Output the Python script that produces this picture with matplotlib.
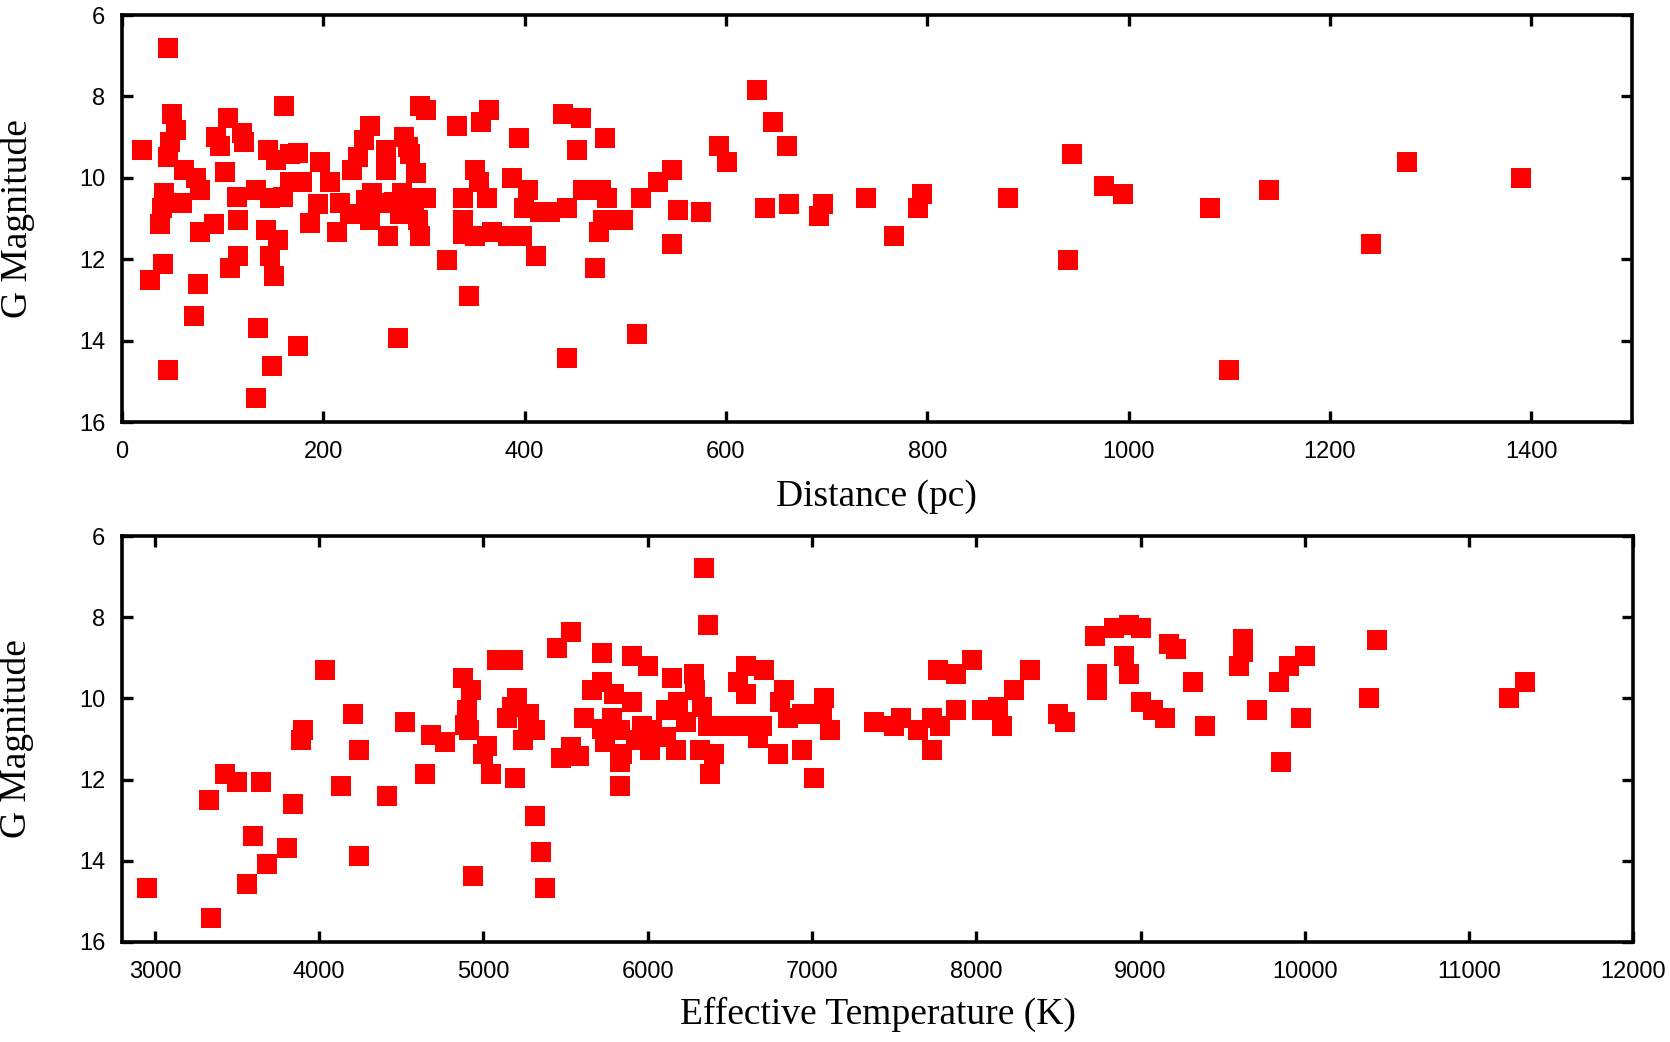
import matplotlib
matplotlib.use("Agg")
import matplotlib.pyplot as plt
from matplotlib import font_manager

# ---------------- data: top panel (distance in pc, G magnitude) ----------------
dist_pc = [
    45.6, 19.8, 49.6, 53.6, 47.6, 45.6, 61.5, 73.4, 77.4, 41.7, 49.6, 59.5, 39.7, 37.7,
    77.4, 91.3, 115, 40.4, 27.8, 75.4, 71.4, 45.6, 135, 148.8, 133, 174.6, 273.8, 160.7,
    105, 93.3, 97.2, 119, 121, 101.9, 113.8, 133, 146.8, 160, 166.7, 178.6, 144.8, 152.8,
    166.7, 174.6, 142.9, 154.8, 115, 107, 146.8, 150.8, 196.4, 206.3, 194.4, 186.5, 216.3,
    214, 228, 234, 240, 246.7, 242.7, 248, 236, 246, 256, 262, 262, 280, 283.7, 285.7,
    291.6, 277.8, 295.6, 301.6, 263.9, 295.6, 293.6, 275.8, 295.6, 301.6, 323, 226, 290, 270,
    332.7, 365, 357, 394.8, 438.5, 456.3, 480, 452.4, 631, 647, 661, 593, 601, 351, 355,
    339, 363, 387, 403, 399, 415, 425, 442, 458, 476, 482, 516, 532, 546, 552, 575, 478,
    498, 474, 339, 339, 351, 368, 383, 397, 411, 470, 546, 345, 512, 442, 639, 663, 696, 692,
    739.3, 794.3, 790.7, 766.8, 879.9, 943.7, 939.5, 975.3, 995, 1080.6, 1100.3, 1139.7,
    1240.8, 1276.6, 1389.6,
]
gmag_dist = [
    6.80, 9.32, 8.43, 8.83, 9.12, 9.50, 9.81, 10.0, 10.3, 10.38, 10.63, 10.63, 10.75, 11.14,
    11.33, 11.14, 11.04, 12.12, 12.52, 12.61, 13.4, 14.73, 13.7, 14.63, 15.42, 14.14, 13.94, 8.24,
    8.53, 9.0, 9.21, 8.9, 9.11, 9.85, 10.47, 10.3, 10.5, 10.47, 10.1, 10.1, 9.32, 9.57,
    9.42, 9.4, 11.29, 11.53, 11.93, 12.22, 11.93, 12.42, 9.61, 10.1, 10.65, 11.12, 10.63,
    11.33, 9.81, 9.48, 9.07, 8.73, 10.55, 10.38, 10.88, 11.04, 10.63, 9.32, 9.81, 9.0, 9.24, 9.42,
    9.89, 10.38, 10.5, 10.5, 11.43, 11.43, 11.04, 10.88, 8.24, 8.34, 12.02, 10.9, 10.7, 10.6,
    8.73, 8.34, 8.62, 9.02, 8.43, 8.53, 9.02, 9.32, 7.84, 8.63, 9.21, 9.21, 9.61, 9.81, 10.1,
    10.49, 10.49, 10.0, 10.3, 10.75, 10.84, 10.84, 10.75, 10.3, 10.3, 10.5, 10.5, 10.1, 9.81, 10.8, 10.84, 11.04,
    11.04, 11.33, 11.04, 11.37, 11.43, 11.33, 11.43, 11.43, 11.93, 12.22, 11.63, 12.91, 13.84, 14.43, 10.75, 10.65, 10.65, 10.94,
    10.5, 10.4, 10.75, 11.43, 10.5, 9.42, 12.02, 10.2, 10.4, 10.75, 14.73, 10.3,
    11.63, 9.61, 10.0,
]

# ---------------- data: bottom panel (Teff in K, G magnitude) ----------------
teff_k = [
    2953, 3343, 3331, 3428, 3501, 3647, 3598, 3562, 3684, 3805, 3842, 3890, 3903, 4037,
    4207, 4243, 4134, 4243, 4414, 4523, 4645, 4682, 4767, 4876, 4925, 4901, 4913, 4888,
    4937, 5083, 5181, 5205, 5144, 5278, 5314, 5241, 5022, 4998, 5047, 5193, 5314, 5351,
    5375, 5448, 5530, 5473, 5533, 5176, 5270,
    6341, 6366, 5720, 5902, 6000, 6146, 6280, 6289, 6598, 6707, 6549, 6598, 6829, 6805,
    7073, 5720, 5659, 5793, 5902, 5610, 5581, 5780, 5740, 5829, 5841, 5829,
    5829, 5927, 6012, 5963, 6110, 6183, 6232, 6110, 6171, 6317, 6329, 6366, 6402, 6378,
    6488, 6573, 6695, 6671, 6793, 6854, 6939, 7061, 7110, 6939, 7012, 7378, 5720, 6024,
    7543, 7500, 7646, 7732, 7780, 7732, 7768, 7878, 7976, 7878, 8037, 8134, 8159, 8232,
    8329, 8500, 8537, 8720, 8732, 8732, 8841, 8927, 9000, 8902, 8927, 9000, 9073, 9146,
    9171, 9215,
    9317, 9390, 9622, 9622, 9598, 9707, 9902, 10000, 9841, 9976, 9854, 10439, 10390,
    11244, 11341,
]
gmag_teff = [
    14.68, 15.42, 12.51, 11.87, 12.07, 12.07, 13.4, 14.58, 14.09, 13.69, 12.61, 11.03, 10.79, 9.31,
    10.39, 11.28, 12.17, 13.89, 12.41, 10.59, 11.87, 10.89, 11.08, 9.51, 9.8, 10.29, 10.79, 10.66,
    14.38, 9.06, 9.06, 10.0, 10.49, 10.39, 10.79, 11.03, 11.18, 11.38, 11.87, 11.97, 12.9, 13.79,
    14.68, 8.77, 8.37, 11.48, 11.2, 10.21, 10.6,
    6.79, 8.18, 8.87, 8.96, 9.21, 9.51, 9.41, 9.8, 9.21, 9.31, 9.6, 9.9, 9.8, 10.1,
    10.0, 9.6, 9.8, 9.9, 10.1, 10.49, 11.41, 10.49, 11.08, 10.79, 11.36, 11.57,
    12.17, 11.03, 11.28, 10.69, 10.29, 10.1, 10.59, 10.95, 11.28, 11.28, 10.2, 10.69, 11.38, 11.87,
    10.69, 10.69, 10.69, 10.98, 11.38, 10.49, 10.39, 10.39, 10.79, 11.28, 11.97, 10.59, 10.75, 10.79,
    10.49, 10.69, 10.79, 10.49, 10.69, 11.28, 9.31, 9.41, 9.06, 10.29, 10.29, 10.2, 10.69, 9.8,
    9.31, 10.39, 10.59, 8.47, 9.41, 9.8, 8.27, 8.18, 8.27, 8.96, 9.41, 10.1, 10.29, 10.49,
    8.67, 8.78,
    9.6, 10.69, 8.53, 8.86, 9.2, 10.29, 9.2, 8.96, 9.6, 10.49, 11.57, 8.57, 10.0,
    10.0, 9.6,
]

dist_ticks = [0, 200, 400, 600, 800, 1000, 1200, 1400]
teff_ticks = [3000, 4000, 5000, 6000, 7000, 8000, 9000, 10000, 11000, 12000]
mag_ticks = [6, 8, 10, 12, 14, 16]

# ---------------- fonts ----------------
available = {f.name for f in font_manager.fontManager.ttflist}
tick_family = [f for f in ["Liberation Sans Narrow", "Liberation Sans", "DejaVu Sans"] if f in available]
label_family = [f for f in ["Liberation Serif", "DejaVu Serif"] if f in available]

fig = plt.figure(figsize=(16.7, 10.42), dpi=100)
ax1 = fig.add_axes([0.0731, 0.595, 0.904, 0.3906])
ax2 = fig.add_axes([0.0731, 0.096, 0.905, 0.3896])

def style(ax, xlim, xticks, xlabel):
    ax.set_xlim(*xlim)
    ax.set_ylim(16, 6)
    ax.set_xticks(xticks)
    ax.set_yticks(mag_ticks)
    for s in ax.spines.values():
        s.set_linewidth(2.6)
        s.set_color("black")
    ax.tick_params(direction="in", length=8, width=2.4, top=True, right=True,
                   labelsize=17, colors="black")
    ax.tick_params(axis="x", pad=14)
    ax.tick_params(axis="y", pad=12)
    for lab in ax.get_xticklabels() + ax.get_yticklabels():
        lab.set_family(tick_family)
    ax.set_xlabel(xlabel, fontsize=27, family=label_family)
    ax.set_ylabel("G Magnitude", fontsize=27, family=label_family)
    ax.yaxis.set_label_coords(-0.058, 0.5)

ax1.scatter(dist_pc, gmag_dist, marker="s", s=14.6 ** 2, color="#ff0000",
            linewidths=0, zorder=3)
style(ax1, (0, 1500), dist_ticks, "Distance (pc)")
ax1.xaxis.set_label_coords(0.5, -0.14)

ax2.scatter(teff_k, gmag_teff, marker="s", s=14.6 ** 2, color="#ff0000",
            linewidths=0, zorder=3)
style(ax2, (2800, 12000), teff_ticks, "Effective Temperature (K)")
ax2.xaxis.set_label_coords(0.5, -0.135)

fig.savefig("out.png", dpi=100, facecolor="white")
